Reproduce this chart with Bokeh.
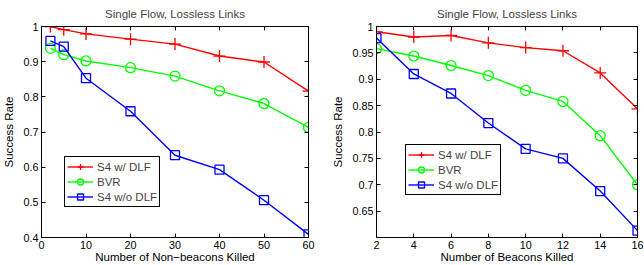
from bokeh.plotting import figure
from bokeh.models import (LinearAxis, FixedTicker, CustomJSTickFormatter, Legend,
                          LegendItem, Range1d, CustomLabelingPolicy)
from bokeh.layouts import row
from bokeh.embed import file_html
from bokeh.resources import INLINE

# ---------------- data ----------------
title_text = "Single Flow, Lossless Links"
series_names = ["S4 w/ DLF", "BVR", "S4 w/o DLF"]

left_x = [2, 5, 10, 20, 30, 40, 50, 60]
left_s4_dlf = [1.0, 0.991, 0.979, 0.964, 0.950, 0.916, 0.899, 0.816]
left_bvr = [0.938, 0.920, 0.902, 0.883, 0.859, 0.817, 0.781, 0.713]
left_s4_nodlf = [0.959, 0.943, 0.853, 0.759, 0.634, 0.593, 0.506, 0.409]
left_xticks = [0, 10, 20, 30, 40, 50, 60]
left_yticks = [0.4, 0.5, 0.6, 0.7, 0.8, 0.9, 1.0]
left_xlabel = "Number of Non\u2212beacons Killed"

right_x = [2, 4, 6, 8, 10, 12, 14, 16]
right_s4_dlf = [0.990, 0.980, 0.983, 0.969, 0.960, 0.954, 0.912, 0.844]
right_bvr = [0.958, 0.944, 0.926, 0.907, 0.879, 0.858, 0.793, 0.700]
right_s4_nodlf = [0.978, 0.910, 0.873, 0.817, 0.768, 0.750, 0.688, 0.613]
right_xticks = [2, 4, 6, 8, 10, 12, 14, 16]
right_yticks = [0.65, 0.7, 0.75, 0.8, 0.85, 0.9, 0.95, 1.0]
right_xlabel = "Number of Beacons Killed"
ylabel = "Success Rate"

FONT = "Liberation Sans"
COLORS = ["#ff0000", "#00ff00", "#0000ff"]
MARKERS = ["cross", "circle", "square"]
SIZES = [12, 10, 9]
HEIGHT = 265


def style_axis(ax, labels=True):
    ax.axis_line_color = "black"
    ax.axis_line_width = 1
    ax.major_tick_in = 4
    ax.major_tick_out = 0
    ax.major_tick_line_color = "black"
    ax.minor_tick_line_color = None
    if labels:
        ax.major_label_text_font = FONT
        ax.major_label_text_font_size = "10.8px"
        ax.major_label_text_color = "black"
        ax.major_label_standoff = 3
        ax.axis_label_text_font = FONT
        ax.axis_label_text_font_size = "11.5px"
        ax.axis_label_text_font_style = "normal"
        ax.axis_label_text_color = "black"
        ax.axis_label_standoff = 5
    else:
        ax.major_label_policy = CustomLabelingPolicy(
            code="for (const i of Array.from(indices)) indices.unset(i); return indices")
        ax.major_label_standoff = 0
        ax.major_label_text_font_size = "1px"


def make(xs, ys_list, xr, yr, xticks, yticks, xlabel, width, mbl, mbr, loc):
    p = figure(width=width, height=HEIGHT, x_range=Range1d(*xr), y_range=Range1d(*yr),
               output_backend="svg", toolbar_location=None,
               min_border_left=mbl, min_border_right=mbr,
               min_border_top=26, min_border_bottom=28,
               title=title_text)
    p.title.text_font = FONT
    p.title.text_font_size = "11.5px"
    p.title.text_font_style = "normal"
    p.title.align = "center"
    p.title.standoff = 6
    p.xgrid.visible = False
    p.ygrid.visible = False
    p.outline_line_color = "black"
    p.outline_line_alpha = 1
    p.outline_line_width = 1
    p.background_fill_color = "white"
    p.border_fill_color = "white"

    yfmt = CustomJSTickFormatter(code="return String(Number(tick.toFixed(2)))")
    p.xaxis.ticker = FixedTicker(ticks=xticks)
    p.yaxis.ticker = FixedTicker(ticks=yticks)
    p.yaxis.formatter = yfmt
    p.xaxis.axis_label = xlabel
    p.yaxis.axis_label = ylabel
    for ax in p.xaxis + p.yaxis:
        style_axis(ax)
    p.xaxis.major_label_standoff = 3
    p.xaxis.axis_label_standoff = -1

    top = LinearAxis(ticker=FixedTicker(ticks=xticks))
    rgt = LinearAxis(ticker=FixedTicker(ticks=yticks))
    style_axis(top, labels=False)
    style_axis(rgt, labels=False)
    p.add_layout(top, "above")
    p.add_layout(rgt, "right")

    items = []
    for name, ys, c, m, s in zip(series_names, ys_list, COLORS, MARKERS, SIZES):
        ln = p.line(xs, ys, line_color=c, line_width=1.4)
        sc = p.scatter(xs, ys, marker=m, size=s, line_color=c, line_width=1.3,
                       fill_color=None)
        items.append(LegendItem(label=name, renderers=[ln, sc]))
    leg = Legend(items=items, location=loc)
    leg.border_line_color = "black"
    leg.border_line_width = 1
    leg.border_line_alpha = 1
    leg.background_fill_color = "white"
    leg.background_fill_alpha = 1
    leg.padding = 2
    leg.spacing = 0
    leg.margin = 0
    leg.glyph_width = 26
    leg.glyph_height = 15
    leg.label_height = 15
    leg.label_standoff = 4
    leg.label_text_font = FONT
    leg.label_text_font_size = "11.5px"
    p.add_layout(leg)
    return p


p1 = make(left_x, [left_s4_dlf, left_bvr, left_s4_nodlf], (0, 60), (0.4, 1.0),
          left_xticks, left_yticks, left_xlabel, 322, 40, 14, (23, 30))
p2 = make(right_x, [right_s4_dlf, right_bvr, right_s4_nodlf], (2, 16), (0.6, 1.0),
          right_xticks, right_yticks, right_xlabel, 322, 54, 7, (29, 42))

layout = row(p1, p2)
open("out.html", "w").write(file_html(layout, INLINE))
